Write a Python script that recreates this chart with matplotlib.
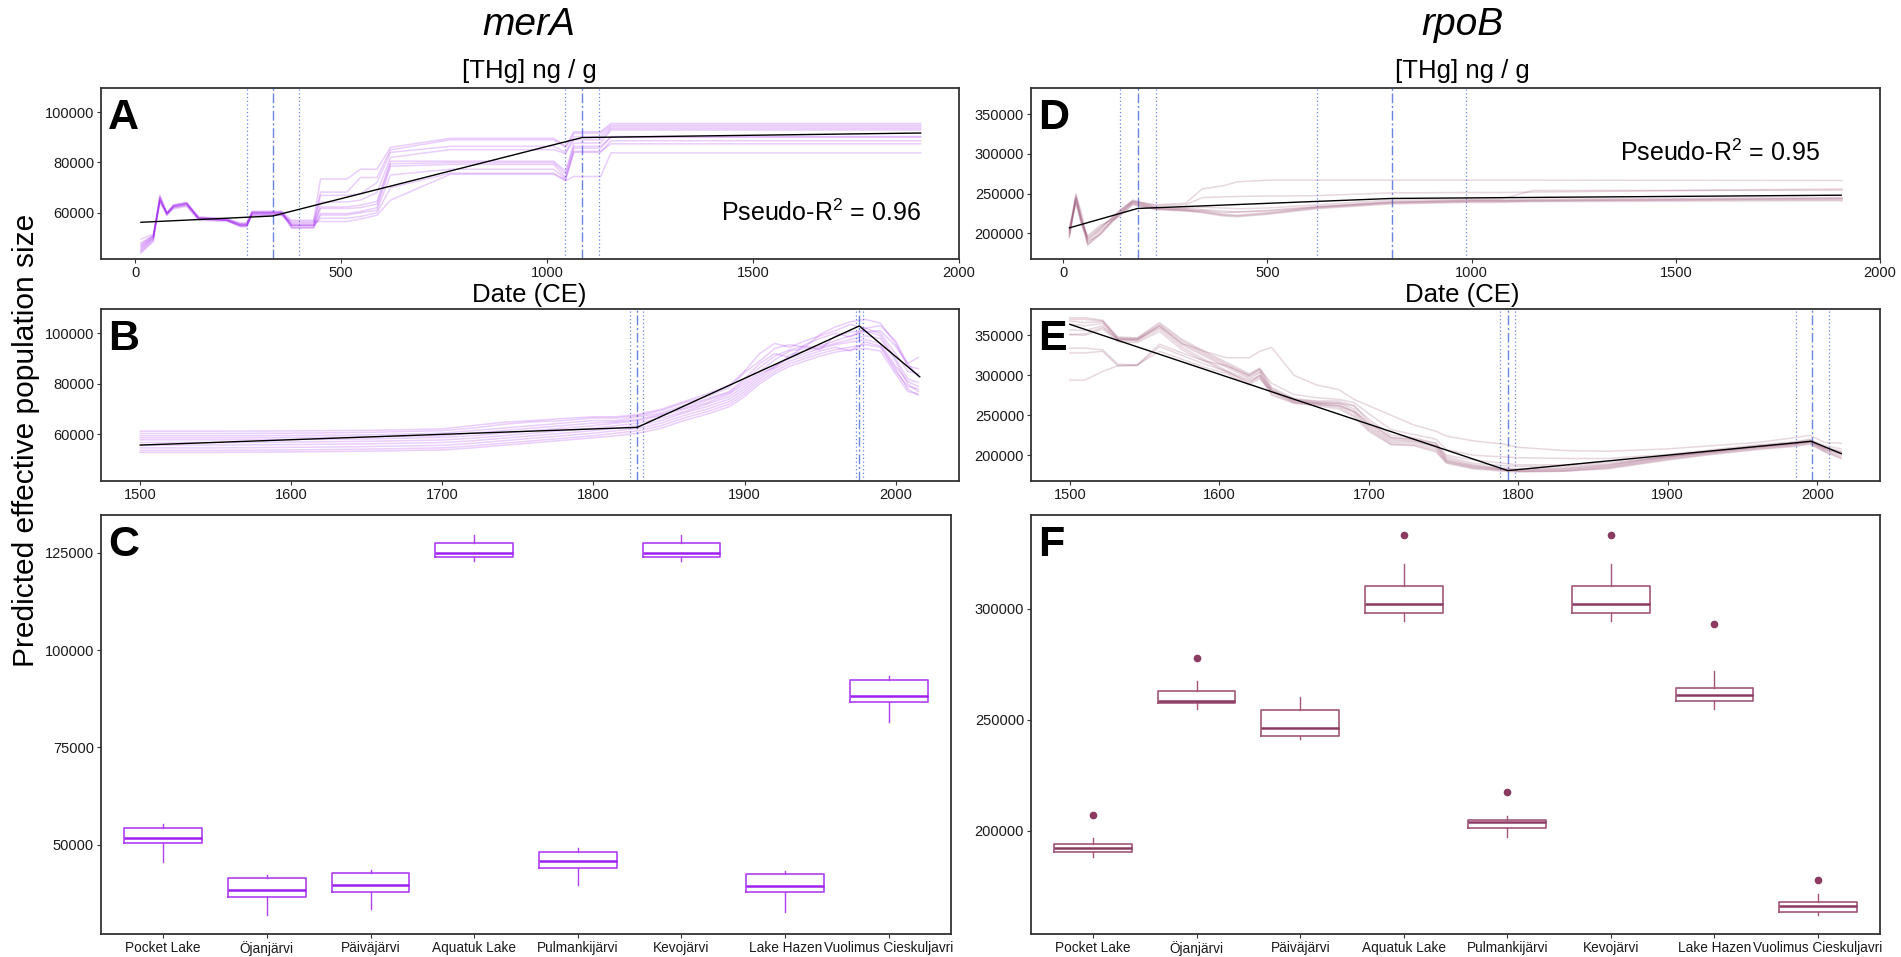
import matplotlib
matplotlib.use('Agg')
import matplotlib.pyplot as plt

plt.rcParams['font.family'] = ['Liberation Sans', 'DejaVu Sans']
plt.rcParams['mathtext.fontset'] = 'custom'
plt.rcParams['mathtext.rm'] = 'Liberation Sans'
plt.rcParams['mathtext.it'] = 'Liberation Sans:italic'
plt.rcParams['mathtext.bf'] = 'Liberation Sans:bold'

# ---------------- DATA ----------------
# Panel A : merA vs [THg] (date CE)
xa = [14, 44, 60, 77, 93, 125, 154, 223, 255, 271, 284, 356, 380, 433, 450, 514, 547, 587, 620, 765,
      1016, 1045, 1065, 1081, 1130, 1155, 1907]
a1 = [49.5, 51.5, 64.5, 60.0, 62.5, 63.5, 58.0, 57.5, 56.0, 56.0, 60.5, 60.5, 57.0, 57.0, 73.4, 73.4, 77.3, 77.3, 86.0, 89.6, 89.6, 86.5, 92.2, 92.2, 92.2, 95.5, 95.5]
a2 = [47.5, 51.0, 66.0, 59.5, 63.0, 64.0, 58.5, 57.5, 55.5, 55.5, 60.0, 60.0, 56.0, 56.0, 68.2, 68.2, 74.0, 74.0, 85.0, 89.0, 89.0, 86.0, 91.6, 91.6, 91.6, 94.8, 94.8]
a3 = [46.5, 50.5, 65.0, 60.0, 62.0, 63.0, 57.5, 57.0, 55.0, 55.0, 60.0, 60.0, 55.5, 55.5, 66.9, 66.9, 67.5, 72.0, 84.0, 86.4, 86.4, 84.0, 90.3, 90.3, 90.3, 94.2, 94.2]
a4 = [46.0, 50.0, 66.5, 59.0, 62.5, 63.5, 58.0, 57.0, 55.0, 55.0, 59.5, 59.5, 55.0, 55.0, 64.3, 64.3, 65.0, 68.0, 82.0, 85.1, 85.1, 83.5, 89.0, 89.0, 89.0, 93.5, 93.5]
a5 = [45.5, 50.0, 65.5, 59.5, 63.0, 64.0, 57.5, 57.0, 55.0, 55.0, 60.0, 60.0, 55.0, 55.0, 62.3, 62.3, 63.0, 64.5, 80.5, 80.5, 80.5, 76.5, 87.7, 87.7, 87.7, 92.9, 92.9]
a6 = [45.0, 49.5, 67.0, 60.0, 62.5, 63.5, 58.0, 57.5, 55.5, 55.5, 60.5, 60.5, 54.5, 54.5, 61.7, 61.7, 62.0, 63.5, 79.5, 79.9, 79.9, 75.5, 86.4, 86.4, 86.4, 90.3, 90.3]
a7 = [44.5, 49.0, 65.0, 59.5, 62.0, 63.0, 57.5, 57.0, 54.5, 54.5, 59.5, 59.5, 54.0, 54.0, 59.7, 59.7, 60.5, 62.0, 78.5, 79.2, 79.2, 74.0, 85.7, 85.7, 85.7, 90.0, 90.0]
a8 = [44.0, 48.5, 66.0, 60.0, 63.0, 64.0, 58.0, 57.0, 54.5, 54.5, 60.0, 60.0, 54.0, 54.0, 59.1, 59.1, 60.0, 61.0, 75.0, 77.3, 77.3, 73.5, 84.4, 84.4, 84.4, 87.4, 87.4]
a9 = [48.0, 51.0, 64.0, 59.0, 61.5, 62.5, 57.0, 56.5, 55.0, 55.0, 59.0, 59.0, 55.0, 55.0, 57.8, 57.8, 58.5, 60.0, 70.0, 75.7, 75.7, 73.0, 84.0, 84.0, 84.0, 88.6, 88.6]
a10 = [47.0, 50.5, 65.0, 59.5, 62.5, 63.5, 57.5, 57.0, 55.5, 55.5, 59.0, 59.0, 56.5, 56.5, 56.5, 56.5, 57.5, 59.0, 65.0, 75.3, 75.3, 72.7, 74.4, 74.4, 74.4, 83.8, 83.8]
fit_a_x = [14, 334, 1085, 1907]
fit_a_y = [56200, 58700, 89900, 91700]
brk_a = [334, 1085]
ci_a = [271, 398, 1043, 1127]

# Panel B : merA vs date (1500-2015)
xb = [1500, 1550, 1600, 1650, 1700, 1720, 1740, 1760, 1780, 1800, 1815, 1830, 1845, 1860, 1875, 1890,
      1900, 1910, 1920, 1930, 1940, 1950, 1960, 1970, 1980, 1990, 2000, 2008, 2015]
b1 = [61.3, 61.3, 61.4, 61.6, 62.2, 63.5, 64.8, 65.5, 66.3, 67.0, 67.0, 68.0, 70.0, 73.0, 76.0, 79.5, 85.0, 92.0, 96.0, 94.5, 97.0, 99.0, 101.0, 103.5, 102.0, 103.0, 97.0, 88.0, 90.5]
b2 = [60.4, 60.4, 60.5, 60.8, 61.5, 62.5, 64.0, 65.0, 65.5, 66.5, 66.5, 67.5, 69.5, 72.5, 75.0, 78.5, 84.5, 89.0, 94.0, 95.5, 94.5, 99.5, 102.5, 104.5, 105.5, 104.0, 96.0, 87.0, 86.0]
b3 = [59.5, 59.5, 59.6, 59.8, 60.5, 61.5, 62.5, 63.5, 64.5, 65.5, 65.5, 67.0, 68.5, 71.5, 74.0, 77.0, 82.0, 88.0, 92.0, 90.5, 95.5, 98.0, 100.0, 98.5, 102.0, 100.0, 92.0, 85.0, 84.0]
b4 = [58.7, 58.7, 58.8, 59.0, 59.5, 60.5, 61.5, 62.5, 63.5, 64.5, 65.0, 66.0, 68.0, 70.5, 73.5, 76.5, 81.0, 86.5, 91.0, 93.5, 95.0, 93.5, 99.0, 100.5, 101.0, 99.0, 90.0, 82.0, 80.5]
b5 = [57.9, 57.9, 58.0, 58.2, 58.8, 59.5, 60.5, 61.5, 62.5, 63.5, 64.5, 65.5, 67.5, 70.0, 72.5, 76.0, 80.0, 85.0, 89.5, 93.0, 94.0, 95.0, 97.0, 99.0, 100.5, 101.0, 95.0, 88.0, 83.0]
b6 = [56.8, 56.8, 57.0, 57.3, 57.8, 58.5, 59.5, 60.5, 61.5, 62.5, 63.5, 64.5, 66.5, 69.0, 72.0, 75.0, 79.0, 84.0, 86.5, 91.5, 93.0, 94.5, 96.0, 97.5, 99.0, 98.0, 89.0, 80.0, 77.0]
b7 = [55.8, 55.8, 56.0, 56.3, 56.8, 57.5, 58.5, 59.5, 60.5, 61.5, 62.5, 63.5, 65.5, 68.5, 71.0, 74.0, 78.0, 83.0, 87.0, 90.0, 92.0, 94.0, 95.5, 96.5, 97.5, 96.0, 87.0, 81.0, 79.0]
b8 = [54.7, 54.7, 54.9, 55.2, 55.7, 56.5, 57.5, 58.5, 59.5, 60.5, 61.5, 62.5, 64.5, 67.5, 70.0, 73.0, 77.0, 82.0, 86.0, 89.0, 91.0, 93.0, 94.5, 93.0, 96.5, 95.0, 86.0, 78.0, 75.5]
b9 = [53.7, 53.7, 53.9, 54.2, 54.7, 55.5, 56.5, 57.5, 58.5, 59.5, 60.5, 61.5, 63.5, 66.5, 69.0, 72.0, 76.0, 81.0, 85.0, 88.0, 90.0, 92.0, 93.5, 94.5, 95.5, 94.5, 85.0, 79.0, 78.0]
b10 = [52.9, 52.9, 53.1, 53.4, 53.9, 54.7, 55.7, 56.7, 57.7, 58.7, 59.5, 60.5, 62.5, 65.5, 68.0, 71.0, 75.0, 80.0, 84.0, 87.0, 89.0, 91.0, 92.5, 93.5, 94.0, 93.0, 84.0, 77.0, 76.0]
fit_b_x = [1500, 1829, 1976, 2016]
fit_b_y = [55800, 62800, 102900, 82800]
brk_b = [1829, 1976]
ci_b = [1824.5, 1833, 1973.7, 1978.5]

# Panel D : rpoB vs [THg] (date CE)
xd = [15, 31, 45, 60, 90, 140, 170, 226, 300, 340, 392, 427, 500, 620, 800, 1000, 1070, 1150, 1907]
d1 = [205, 248, 225, 190, 198, 225, 240, 236, 238, 256, 260, 265, 267, 267, 267, 267, 267, 267, 266.6]
d2 = [200, 250, 220, 186, 200, 228, 242, 235, 236, 245, 246, 246.5, 247, 247.5, 251, 251.5, 251.5, 252, 256]
d3 = [195, 245, 218, 192, 205, 230, 241, 233, 232, 233, 232, 231, 232, 236, 242, 243, 243, 254, 254.3]
d4 = [203, 242, 215, 195, 208, 226, 238, 232, 230, 229, 226, 227, 229, 234, 240, 242, 242, 243, 245.3]
d5 = [198, 240, 212, 188, 203, 224, 236, 231, 229, 228, 224, 223, 226, 233, 239, 241, 241, 242, 243.9]
d6 = [208, 238, 210, 197, 210, 222, 237, 230, 228, 227, 223, 222, 225, 232, 238, 240, 240, 241, 242.5]
d7 = [196, 244, 214, 185, 199, 227, 239, 231, 229, 226, 222, 221, 224, 231, 237, 239, 239, 240, 241.1]
d8 = [201, 246, 216, 193, 206, 229, 240, 233, 231, 230, 228, 227, 228, 233, 239, 241, 241, 241, 244]
fit_d_x = [15, 182, 804, 1905]
fit_d_y = [207000, 231400, 244000, 248100]
brk_d = [182, 804]
ci_d = [140, 226, 621, 985]

# Panel E : rpoB vs date (1500-2015)
xe = [1500, 1510, 1522, 1532, 1545, 1560, 1575, 1590, 1605, 1620, 1627, 1635, 1650, 1665, 1680, 1690, 1700,
      1715, 1730, 1745, 1752, 1770, 1790, 1800, 1830, 1860, 1900, 1930, 1960, 1985, 1995, 2005, 2016]
e1 = [351, 352, 360, 345, 345, 362, 340, 330, 322, 322, 330, 335, 300, 288, 282, 270, 262, 250, 238, 230, 224, 218, 214, 210, 206, 205, 208, 212, 216, 222, 225, 216, 215]
e2 = [372, 372, 369, 348, 347, 366, 345, 330, 316, 302, 309, 285, 271, 268, 268, 262, 242, 222, 220, 215, 196, 188, 184, 183, 184, 188, 199, 206, 212, 216, 219, 210, 205]
e3 = [370, 370, 368, 347, 346, 364, 343, 328, 314, 300, 307, 283, 270, 267, 266, 258, 238, 220, 218, 212, 194, 187, 183, 182, 183, 187, 198, 205, 211, 215, 218, 209, 203]
e4 = [368, 366, 367, 345, 344, 362, 340, 326, 312, 298, 305, 281, 269, 266, 264, 255, 236, 218, 217, 210, 193, 186, 182, 181, 182, 186, 197, 204, 210, 214, 217, 207, 201]
e5 = [364, 362, 365, 346, 345, 360, 338, 324, 310, 296, 303, 279, 268, 265, 262, 253, 234, 216, 215, 208, 192, 185, 182, 180, 181, 185, 196, 203, 209, 213, 216, 206, 199]
e6 = [357, 356, 362, 344, 343, 358, 335, 320, 306, 294, 300, 277, 266, 264, 260, 250, 232, 214, 213, 206, 191, 184, 181, 180, 180, 184, 195, 202, 208, 212, 215, 205, 197]
e7 = [351, 350, 358, 342, 341, 355, 332, 318, 304, 292, 298, 275, 265, 262, 258, 248, 230, 213, 212, 204, 190, 183, 180, 179, 180, 183, 194, 201, 207, 211, 214, 204, 196]
e8 = [334, 334, 332, 314, 313, 339, 328, 318, 312, 300, 308, 290, 276, 272, 270, 266, 252, 232, 226, 220, 207, 200, 198, 197, 196, 196, 201, 207, 213, 217, 220, 212, 208]
e9 = [328, 328, 330, 312, 312, 336, 325, 314, 305, 290, 300, 282, 268, 265, 265, 262, 245, 225, 222, 215, 200, 194, 190, 188, 188, 191, 199, 205, 211, 215, 218, 209, 204]
e10 = [294, 294, 305, 312, 313, 330, 320, 310, 302, 288, 296, 280, 266, 263, 262, 255, 240, 222, 220, 212, 198, 190, 187, 186, 186, 189, 198, 204, 210, 214, 217, 208, 202]
fit_e_x = [1500, 1793, 1996, 2016]
fit_e_y = [363800, 180800, 217500, 202100]
brk_e = [1793, 1996.7]
ci_e = [1787.7, 1797.5, 1986, 2007.6]

# Boxplots (C: merA, F: rpoB)
lakes = ['Pocket Lake', 'Öjanjärvi', 'Päiväjärvi', 'Aquatuk Lake', 'Pulmankijärvi',
         'Kevojärvi', 'Lake Hazen', 'Vuolimus Cieskuljavri']
c_low = [45650, 31940, 33400, 122960, 39650, 122960, 32710, 81600]
c_q1 = [50360, 36600, 37760, 123990, 43930, 123990, 37920, 86580]
c_med = [51640, 38490, 39650, 125000, 45810, 125000, 39390, 88200]
c_q3 = [54370, 41320, 42650, 127400, 48040, 127400, 42390, 92310]
c_high = [55300, 42170, 43500, 129560, 49070, 129560, 43240, 93420]

f_low = [188290, 254690, 241450, 294610, 197300, 294610, 254960, 162020]
f_q1 = [190270, 257390, 242530, 298080, 201080, 298080, 258290, 163370]
f_med = [192340, 258290, 246130, 302130, 203780, 302130, 260990, 165940]
f_q3 = [193870, 262940, 254240, 310100, 204950, 310100, 264420, 167750]
f_high = [196570, 267440, 260230, 320150, 206490, 320150, 271960, 171480]
f_out = [[207070], [277940], [], [333350], [217430], [333350], [293120], [177650]]

# ---------------- FIGURE ----------------
W, H = 1901, 957
fig = plt.figure(figsize=(W / 100, H / 100), dpi=100)

def add_ax(l, t, r, b):
    return fig.add_axes([l / W, 1 - b / H, (r - l) / W, (b - t) / H])

axA = add_ax(101, 88, 959, 259)
axB = add_ax(101, 309, 959, 481)
axC = add_ax(101, 515, 951, 934)
axD = add_ax(1031, 88, 1880, 259)
axE = add_ax(1031, 309, 1880, 481)
axF = add_ax(1031, 515, 1880, 934)

PURPLE = '#A020F0'
MAUVE = '#8B3A62'
VL = '#4F72DD'

def style(ax):
    for s in ax.spines.values():
        s.set_linewidth(1.3)
        s.set_color('#333333')
    ax.tick_params(length=3, width=0.8, colors='#333333', labelcolor='#1a1a1a',
                   labelsize=10.5, pad=2)

def plain_ticks(ax, xt=None, yt=None):
    if xt is not None:
        ax.set_xticks(xt)
        ax.set_xticklabels([str(v) for v in xt])
    if yt is not None:
        ax.set_yticks(yt)
        ax.set_yticklabels([str(v) for v in yt])

def ensemble(ax, x, lines, color, scale, alpha=0.22):
    for ln in lines:
        ax.plot(x, [v * scale for v in ln], color=color, alpha=alpha, lw=1.1,
                solid_joinstyle='round', zorder=2)

def vlines(ax, brks, cis):
    for c in cis:
        ax.axvline(c, color=VL, ls=(0, (1, 2)), lw=0.9, alpha=0.85, zorder=1)
    for b in brks:
        ax.axvline(b, color=VL, ls=(0, (7, 2, 1.5, 2)), lw=1.0, alpha=0.85, zorder=1)

def panel_label(ax, s):
    ax.annotate(s, xy=(0, 1), xycoords='axes fraction', xytext=(7, -10),
                textcoords='offset pixels', ha='left', va='top',
                fontsize=31, fontweight='bold', color='black')

# Panel A
ensemble(axA, xa, [a1, a2, a3, a4, a5, a6, a7, a8, a9, a10], PURPLE, 1000)
vlines(axA, brk_a, ci_a)
axA.plot(fit_a_x, fit_a_y, color='black', lw=1.0, zorder=3)
axA.set_xlim(-83, 2000)
axA.set_ylim(41600, 109600)
plain_ticks(axA, [0, 500, 1000, 1500, 2000], [60000, 80000, 100000])
axA.text(0.839, 0.269, 'Pseudo-R$^2$ = 0.96', transform=axA.transAxes,
         ha='center', va='center', fontsize=18)

# Panel B
ensemble(axB, xb, [b1, b2, b3, b4, b5, b6, b7, b8, b9, b10], PURPLE, 1000)
vlines(axB, brk_b, ci_b)
axB.plot(fit_b_x, fit_b_y, color='black', lw=1.0, zorder=3)
axB.set_xlim(1474, 2042)
axB.set_ylim(41600, 109600)
plain_ticks(axB, [1500, 1600, 1700, 1800, 1900, 2000], [60000, 80000, 100000])

# Panel D
ensemble(axD, xd, [d1, d2, d3, d4, d5, d6, d7, d8], MAUVE, 1000, alpha=0.2)
vlines(axD, brk_d, ci_d)
axD.plot(fit_d_x, fit_d_y, color='black', lw=1.0, zorder=3)
axD.set_xlim(-79, 2000)
axD.set_ylim(167800, 383000)
plain_ticks(axD, [0, 500, 1000, 1500, 2000], [200000, 250000, 300000, 350000])
axD.text(0.812, 0.623, 'Pseudo-R$^2$ = 0.95', transform=axD.transAxes,
         ha='center', va='center', fontsize=18)

# Panel E
ensemble(axE, xe, [e1, e2, e3, e4, e5, e6, e7, e8, e9, e10], MAUVE, 1000, alpha=0.2)
vlines(axE, brk_e, ci_e)
axE.plot(fit_e_x, fit_e_y, color='black', lw=1.0, zorder=3)
axE.set_xlim(1474, 2042)
axE.set_ylim(167800, 383000)
plain_ticks(axE, [1500, 1600, 1700, 1800, 1900, 2000], [200000, 250000, 300000, 350000])

# Boxplots
def boxes(ax, low, q1, med, q3, high, outs, color, medcolor, fcolor):
    stats = []
    for i in range(len(lakes)):
        stats.append(dict(whislo=low[i], q1=q1[i], med=med[i], q3=q3[i],
                          whishi=high[i], fliers=outs[i] if outs else []))
    ax.bxp(stats, positions=list(range(1, len(lakes) + 1)), widths=0.75,
           showcaps=False, showfliers=True, patch_artist=False,
           boxprops=dict(color=color, lw=1.2),
           whiskerprops=dict(color=color, lw=1.0),
           medianprops=dict(color=medcolor, lw=1.8),
           flierprops=dict(marker='o', markerfacecolor=fcolor, markeredgecolor=fcolor,
                           markersize=4.5, linestyle='none'))
    ax.set_xlim(0.4, 8.6)
    ax.set_xticks(list(range(1, len(lakes) + 1)))
    ax.set_xticklabels(lakes, fontsize=9.8)

boxes(axC, c_low, c_q1, c_med, c_q3, c_high, None, '#B040F5', PURPLE, PURPLE)
axC.set_ylim(27060, 134700)
plain_ticks(axC, None, [50000, 75000, 100000, 125000])

boxes(axF, f_low, f_q1, f_med, f_q3, f_high, f_out, '#A25677', MAUVE, MAUVE)
axF.set_ylim(153460, 342200)
plain_ticks(axF, None, [200000, 250000, 300000])

for ax, lab in zip([axA, axB, axC, axD, axE, axF], 'ABCDEF'):
    style(ax)
    panel_label(ax, lab)
axC.tick_params(axis='x', labelsize=9.8)
axF.tick_params(axis='x', labelsize=9.8)

# Figure texts
def ftext(x, y, s, **kw):
    fig.text(x / W, 1 - y / H, s, ha='center', va='center', **kw)

ftext(529, 25, 'merA', fontsize=28, style='italic')
ftext(1462, 25, 'rpoB', fontsize=28, style='italic')
ftext(529, 71, '[THg] ng / g', fontsize=18.5)
ftext(1462, 71, '[THg] ng / g', fontsize=18.5)
ftext(529, 295, 'Date (CE)', fontsize=18.5)
ftext(1462, 295, 'Date (CE)', fontsize=18.5)
ftext(26, 440, 'Predicted effective population size', fontsize=21.5, rotation=90)

fig.savefig('out.png', dpi=100, facecolor='white')
